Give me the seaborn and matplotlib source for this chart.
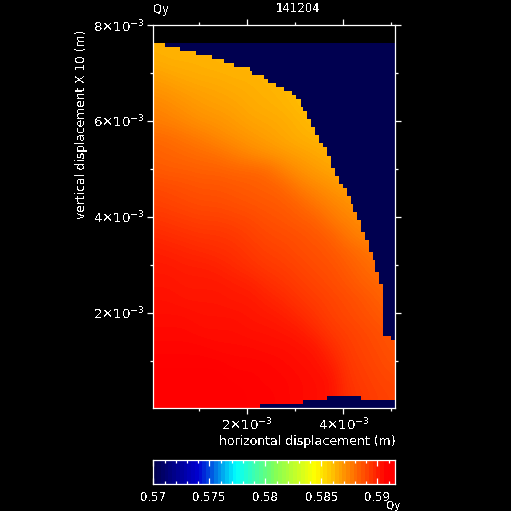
import numpy as np
import matplotlib
matplotlib.use('Agg')
import matplotlib.pyplot as plt
from matplotlib.colors import LinearSegmentedColormap, ListedColormap
import seaborn as sns

qy_table = np.array([
    [5864,5864,5864,5864,5864,5864,5864,5864,5864,5864,5864,5864,5864,5864,5864,5864],
    [5865,5864,5864,5864,5863,5863,5863,5863,5863,5863,5863,5863,5863,5863,5863,5863],
    [5869,5867,5866,5865,5865,5864,5864,5863,5862,5862,5861,5861,5861,5861,5861,5861],
    [5872,5871,5869,5868,5867,5866,5865,5864,5863,5861,5860,5859,5859,5859,5859,5859],
    [5876,5874,5872,5870,5869,5868,5866,5865,5864,5862,5860,5859,5859,5859,5859,5859],
    [5878,5877,5875,5873,5872,5870,5868,5867,5866,5864,5862,5861,5860,5860,5860,5860],
    [5883,5882,5880,5878,5875,5873,5871,5869,5867,5865,5864,5863,5862,5862,5862,5862],
    [5885,5884,5883,5882,5881,5878,5875,5873,5871,5869,5867,5865,5864,5864,5864,5864],
    [5887,5886,5886,5885,5885,5884,5884,5883,5877,5873,5870,5868,5866,5866,5866,5866],
    [5891,5890,5889,5888,5888,5887,5886,5885,5884,5878,5875,5872,5869,5868,5868,5868],
    [5893,5892,5891,5890,5890,5889,5888,5887,5886,5884,5879,5876,5873,5871,5871,5871],
    [5896,5895,5894,5893,5893,5892,5891,5889,5888,5886,5885,5879,5876,5874,5872,5872],
    [5899,5898,5897,5896,5896,5895,5893,5891,5890,5889,5887,5885,5879,5876,5874,5874],
    [5902,5901,5900,5899,5898,5897,5895,5893,5892,5890,5889,5887,5884,5881,5878,5876],
    [5903,5903,5902,5902,5901,5899,5897,5895,5894,5892,5890,5889,5886,5883,5881,5879],
    [5904,5904,5903,5903,5903,5902,5901,5898,5896,5894,5892,5890,5888,5885,5883,5881],
    [5905,5905,5904,5904,5904,5903,5903,5901,5899,5896,5894,5892,5890,5888,5885,5883],
    [5906,5906,5906,5905,5905,5905,5904,5903,5902,5899,5896,5893,5891,5889,5887,5885],
    [5907,5907,5907,5906,5906,5906,5905,5905,5904,5903,5899,5895,5893,5891,5889,5887],
    [5908,5908,5908,5908,5907,5907,5907,5906,5906,5905,5904,5898,5894,5892,5890,5888],
    [5909,5909,5909,5909,5909,5908,5908,5908,5907,5906,5905,5902,5895,5893,5891,5889],
    [5910,5910,5910,5910,5910,5909,5909,5908,5908,5907,5906,5905,5896,5894,5892,5891],
    [5910,5910,5910,5910,5910,5910,5909,5909,5908,5907,5906,5905,5897,5895,5893,5892],
    [5910,5910,5910,5910,5910,5910,5909,5909,5908,5907,5906,5905,5897,5895,5893,5892],
]) * 1e-4

# last valid column of each row, 120 columns wide, top row first
valid_cols = [6, 13, 21, 29, 35, 40, 48, 49, 55, 57, 61, 65, 69, 71, 73, 73,
              74, 76, 76, 78, 78, 80, 80, 82, 82, 84, 86, 86, 88, 88, 88, 90,
              90, 92, 92, 94, 96, 96, 98, 98, 99, 99, 101, 101, 103, 103, 103,
              105, 105, 107, 107, 107, 109, 109, 110, 110, 110, 112, 112, 112,
              114, 114, 114, 114, 114, 114, 114, 114, 114, 114, 114, 114, 114,
              118, 120, 120, 120, 120, 120, 120, 120, 120, 120, 120, 120, 120,
              120, 120, 120, 120, 120]
# dead cells along the bottom: row, first column, last column
gap_rows = [88, 89, 90]
gap_first = [86, 74, 53]
gap_last = [103, 120, 120]

x_major = [2e-3, 4e-3]
x_minor = [1e-3, 3e-3, 5e-3]
y_major = [2e-3, 4e-3, 6e-3, 8e-3]
y_minor = [1e-3, 3e-3, 5e-3, 7e-3]
x_labels = [r'$2{\times}10^{-3}$', r'$4{\times}10^{-3}$']
y_labels = [r'$2{\times}10^{-3}$', r'$4{\times}10^{-3}$',
            r'$6{\times}10^{-3}$', r'$8{\times}10^{-3}$']
cb_major = [0.57, 0.575, 0.58, 0.585, 0.59]
cb_labels = ['0.57', '0.575', '0.58', '0.585', '0.59']
cb_minor = [0.571, 0.572, 0.573, 0.574, 0.576, 0.577, 0.578, 0.579, 0.581,
            0.582, 0.583, 0.584, 0.586, 0.587, 0.588, 0.589, 0.591]
q_min, q_max = 0.57, 0.5916

plt.rcParams.update({
    'figure.facecolor': 'black', 'savefig.facecolor': 'black',
    'text.color': 'white', 'axes.edgecolor': 'white', 'axes.linewidth': 0.9,
    'xtick.color': 'white', 'ytick.color': 'white',
    'xtick.labelcolor': 'white', 'ytick.labelcolor': 'white',
    'font.size': 8.4, 'mathtext.default': 'regular',
    'text.antialiased': False,
})

jet = LinearSegmentedColormap.from_list('qy', [
    (0.0, (0, 0, 80 / 255)), (0.18, (0, 0, 210 / 255)), (0.339, (0, 1, 1)),
    (0.5, (0.5, 1, 0.35)), (0.669, (1, 1, 0)), (0.97, (1, 0, 0)), (1.0, (1, 0, 0)),
], N=256)
navy = ListedColormap(['#000050'])

W = 511.0
def box(left, top, right, bottom):
    return [left / W, 1 - bottom / W, (right - left) / W, (bottom - top) / W]

fig = plt.figure(figsize=(5.11, 5.11), dpi=100)

# field + dead cells, in cell coordinates
ax_map = fig.add_axes(box(153.3, 43.3, 395.3, 408))
ax_map.set_facecolor('black')
dead = np.zeros((len(valid_cols), 120))
for row, last in enumerate(valid_cols):
    dead[row, last:] = 1
for row, first, last in zip(gap_rows, gap_first, gap_last):
    dead[row, first:last] = 1
sns.heatmap(dead, mask=dead == 0, cmap=navy, cbar=False, vmin=0, vmax=1,
            xticklabels=False, yticklabels=False, ax=ax_map)
ax_map.imshow(qy_table, cmap=jet, vmin=q_min, vmax=q_max, aspect='auto',
              interpolation='bicubic', extent=(-4, 124, 94, -2))
ax_map.set_xlim(0, 120)
ax_map.set_ylim(91, 0)
ax_map.axis('off')

# frame and real scales
ax = fig.add_axes(box(153.3, 25, 395.3, 408))
ax.patch.set_alpha(0)
ax.set_xlim(0.04e-3, 5.08e-3)
ax.set_ylim(0.02e-3, 8e-3)
ax.set_xticks(x_major, x_labels)
ax.set_xticks(x_minor, minor=True)
ax.set_yticks(y_major, y_labels)
ax.set_yticks(y_minor, minor=True)
ax.tick_params(which='major', length=4.3, width=0.9, top=True, right=True,
               pad=2, labelsize=9.6)
ax.tick_params(which='minor', length=2.2, width=0.9, top=True, right=True)

# colour bar
levels = np.linspace(q_min, q_max, 64).reshape(1, -1)
ax_bar = fig.add_axes(box(153.3, 459.5, 395.3, 484))
sns.heatmap(levels, cmap=jet, vmin=q_min, vmax=q_max, cbar=False,
            xticklabels=False, yticklabels=False, ax=ax_bar)
ax_cb = fig.add_axes(box(153.3, 459.5, 395.3, 484))
ax_cb.patch.set_alpha(0)
ax_cb.set_xlim(q_min, q_max)
ax_cb.set_yticks([])
ax_cb.set_xticks(cb_major, cb_labels)
ax_cb.set_xticks(cb_minor, minor=True)
ax_cb.tick_params(which='major', direction='in', length=4, width=0.9, top=True, pad=5)
ax_cb.tick_params(which='minor', direction='in', length=2.2, width=0.9, top=True)

# labels placed where the reference has them
def put(px, py, text, **kw):
    fig.text(px / W, 1 - py / W, text, va='center', **kw)

put(153, 9, 'Qy')
put(298, 9, '141204', ha='center')
put(395.5, 442, 'horizontal displacement (m)', ha='right', fontsize=9)
put(82, 124, 'vertical displacement X 10 (m)', ha='center', rotation=90, fontsize=8.8)
put(401, 506, 'Qy', ha='right', fontsize=7.5)

fig.savefig('out.png', dpi=100)
